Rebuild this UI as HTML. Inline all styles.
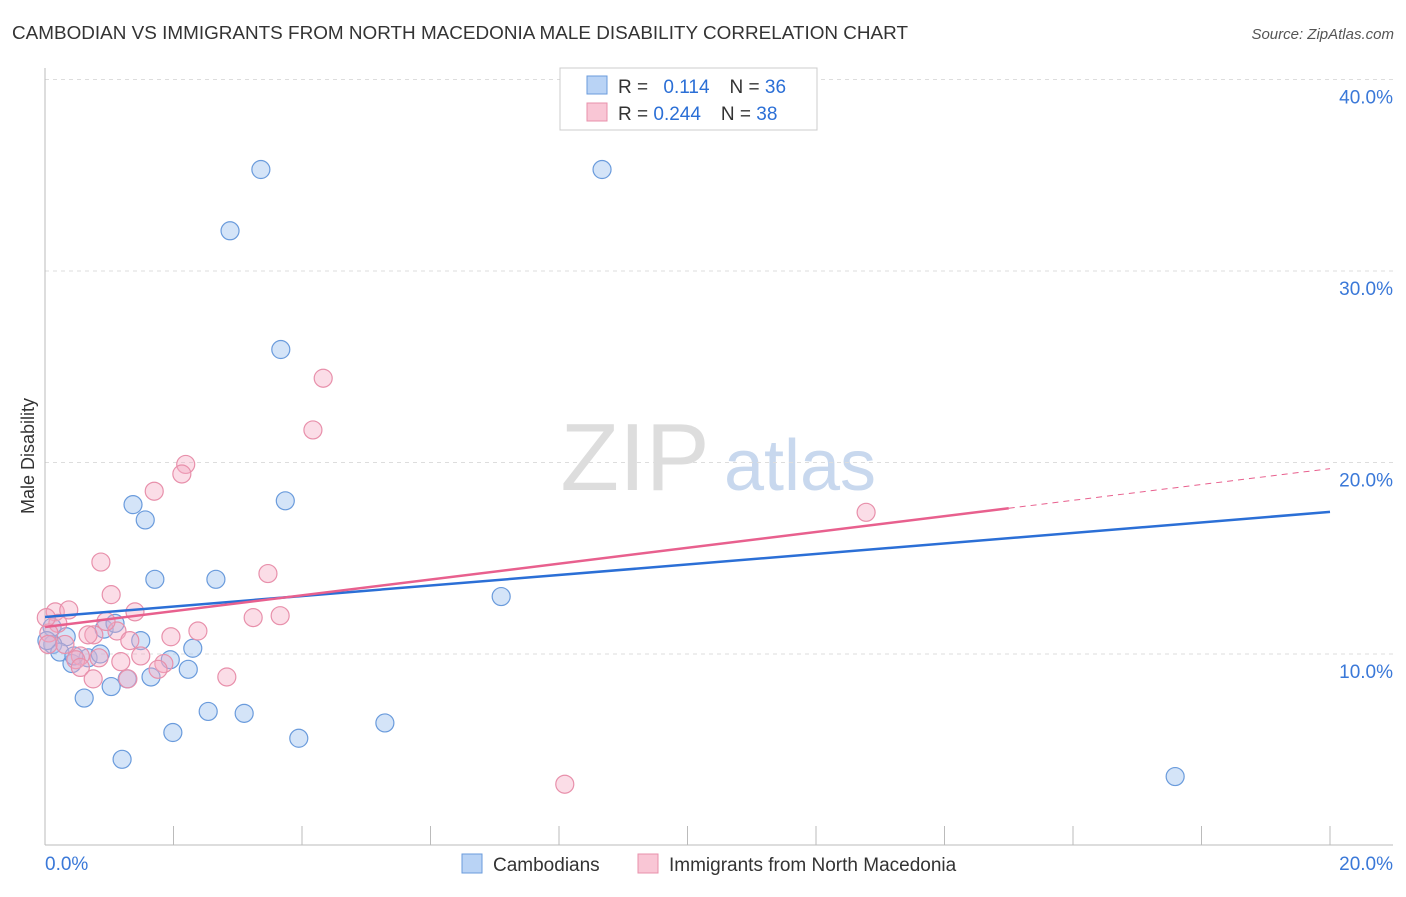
<!DOCTYPE html>
<html><head><meta charset="utf-8"><style>
body{margin:0;background:#fff;font-family:"Liberation Sans",sans-serif;}
svg text{font-family:"Liberation Sans",sans-serif;}
</style></head><body>
<svg id="chart" width="1406" height="892" xmlns="http://www.w3.org/2000/svg">
<text x="12" y="39" font-size="18" fill="#333" textLength="896" lengthAdjust="spacingAndGlyphs">CAMBODIAN VS IMMIGRANTS FROM NORTH MACEDONIA MALE DISABILITY CORRELATION CHART</text>
<text x="1394" y="39" font-size="15" fill="#555" font-style="italic" text-anchor="end">Source: ZipAtlas.com</text>
<g>
<text x="635" y="490" font-size="96" fill="#ddd" font-family="Liberation Serif" text-anchor="middle">ZIP</text>
<text x="800" y="490" font-size="72" fill="#c8d8ee" text-anchor="middle">atlas</text>
</g>
<g id="grid"></g>
<g id="axes"></g>
<g id="marks"></g>
<g>
<rect x="560" y="68" width="257" height="62" fill="#fff" stroke="#ccc"/>
<rect x="587" y="76" width="20" height="18" fill="#b9d3f5" stroke="#6a9bdc"/>
<rect x="587" y="103" width="20" height="18" fill="#f9c6d5" stroke="#e890ab"/>
<text x="618" y="93" font-size="19" fill="#333">R = <tspan fill="#2b6fd6" dx="10">0.114</tspan><tspan dx="20" fill="#333">N = </tspan><tspan fill="#2b6fd6">36</tspan></text>
<text x="618" y="120" font-size="19" fill="#333">R = <tspan fill="#2b6fd6">0.244</tspan><tspan dx="20" fill="#333">N = </tspan><tspan fill="#2b6fd6">38</tspan></text>
</g>
<g>
<rect x="462" y="854" width="20" height="19" fill="#b9d3f5" stroke="#6a9bdc"/>
<text x="493" y="871" font-size="19" fill="#333">Cambodians</text>
<rect x="638" y="854" width="20" height="19" fill="#f9c6d5" stroke="#e890ab"/>
<text x="669" y="871" font-size="19" fill="#333">Immigrants from North Macedonia</text>
</g>
<text transform="translate(34,456) rotate(-90)" font-size="18" fill="#333" text-anchor="middle">Male Disability</text>
</svg>
<script>
const yTicks=[10,20,30,40];
const yTickLabels=["10.0%","20.0%","30.0%","40.0%"];
const xTickLabels=["0.0%","20.0%"];
const blueX=[3.36,8.67,2.88,3.67,1.37,3.74,1.56,1.71,2.66,7.10,0.11,0.33,0.92,1.09,1.49,0.12,0.23,0.42,0.67,0.86,1.95,2.30,2.23,1.65,1.28,1.03,0.61,2.54,3.10,5.29,1.99,3.95,1.20,17.59,0.03,0.45];
const blueY=[35.3,35.3,32.1,25.9,17.8,18.0,17.0,13.9,13.9,13.0,11.4,10.9,11.3,11.6,10.7,10.5,10.1,9.5,9.8,10.0,9.7,10.3,9.2,8.8,8.7,8.3,7.7,7.0,6.9,6.4,5.9,5.6,4.5,3.6,10.7,9.9];
const pinkX=[4.33,4.17,2.19,2.13,1.70,12.78,0.87,3.47,1.03,0.16,0.37,1.40,3.66,3.24,2.38,1.96,1.12,0.76,0.20,1.32,0.06,0.05,0.55,0.84,0.48,1.49,1.18,1.85,1.76,0.55,0.75,1.29,2.83,8.09,0.95,0.31,0.67,0.02];
const pinkY=[24.4,21.7,19.9,19.4,18.5,17.4,14.8,14.2,13.1,12.2,12.3,12.2,12.0,11.9,11.2,10.9,11.2,11.0,11.6,10.7,11.1,10.5,9.9,9.8,9.7,9.9,9.6,9.5,9.2,9.3,8.7,8.7,8.8,3.2,11.7,10.5,11.0,11.9];
const blueLine=[11.93,17.42];
const pinkLine=[11.41,0.4134];
const X0=45,X1=1330,Y0=845.5,YS=19.15;
const sx=v=>X0+(X1-X0)*v/20, sy=v=>Y0-v*YS;
const NS="http://www.w3.org/2000/svg";
function mk(parent,tag,attrs){const e=document.createElementNS(NS,tag);for(const k in attrs)e.setAttribute(k,attrs[k]);document.getElementById(parent).appendChild(e);return e;}
yTicks.forEach((t,i)=>{
 const g=mk('grid','line',{x1:45,x2:1393,y1:sy(t),y2:sy(t),stroke:'#ddd','stroke-dasharray':'4,4'});
 
 
 const l=mk('grid','text',{x:1393,y:sy(t)+24,'font-size':19,fill:'#3a78d8','text-anchor':'end'});
 l.textContent=yTickLabels[i];
 
 
});
let a=mk('axes','line',{x1:45,x2:45,y1:68,y2:845,stroke:'#bbb'});


a=mk('axes','line',{x1:45,x2:1393,y1:845,y2:845,stroke:'#bbb'});


for(let i=0;i<=10;i++){
 const t=mk('axes','line',{x1:sx(i*2),x2:sx(i*2),y1:826,y2:845,stroke:'#bbb'});
 
 
}
[[0,'start'],[20,'end']].forEach((p,i)=>{
 const l=mk('axes','text',{x:i?1393:45,y:870,'font-size':19,fill:'#3a78d8','text-anchor':p[1]});
 l.textContent=xTickLabels[i];
 
 
});
blueX.forEach((x,i)=>{
 const c=mk('marks','circle',{cx:sx(x),cy:sy(blueY[i]),r:9,fill:'rgba(160,195,240,0.45)',stroke:'#6a9bdc','stroke-width':1.2});
 
 
});
pinkX.forEach((x,i)=>{
 const c=mk('marks','circle',{cx:sx(x),cy:sy(pinkY[i]),r:9,fill:'rgba(245,170,195,0.4)',stroke:'#e890ab','stroke-width':1.2});
 
 
});
let ln=mk('marks','line',{x1:sx(0),y1:sy(blueLine[0]),x2:sx(20),y2:sy(blueLine[1]),stroke:'#2b6fd6','stroke-width':2.5});


ln=mk('marks','line',{x1:sx(0),y1:sy(pinkLine[0]),x2:sx(15),y2:sy(pinkLine[0]+pinkLine[1]*15),stroke:'#e8608e','stroke-width':2.5});


ln=mk('marks','line',{x1:sx(15),y1:sy(pinkLine[0]+pinkLine[1]*15),x2:sx(20),y2:sy(pinkLine[0]+pinkLine[1]*20),stroke:'#e8608e','stroke-width':1,'stroke-dasharray':'6,5'});


</script>
</body></html>
